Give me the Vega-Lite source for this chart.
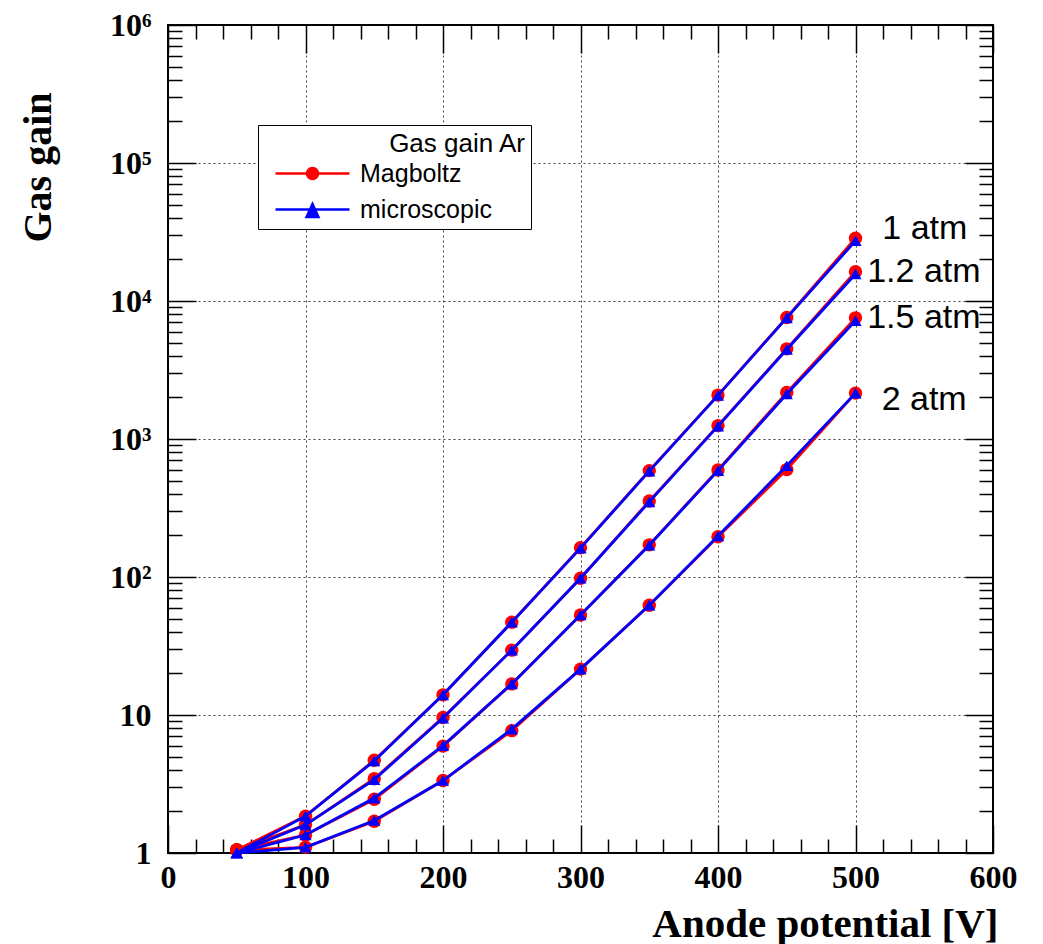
{
  "$schema": "https://vega.github.io/schema/vega-lite/v6.json",
  "width": 825,
  "height": 828,
  "autosize": {"type": "none"},
  "padding": {"left": 168, "top": 25, "right": 50, "bottom": 91},
  "background": "white",
  "config": {
    "view": {"stroke": "black", "strokeWidth": 2},
    "axis": {
      "domain": false,
      "tickColor": "black",
      "tickWidth": 1.5,
      "gridColor": "black",
      "gridDash": [2, 3],
      "gridWidth": 1,
      "gridOpacity": 0.75,
      "labelColor": "black",
      "titleColor": "black"
    }
  },
  "datasets": {
    "d": [
      {"V": 50, "g": 1.05, "p": "1", "m": "Magboltz"},
      {"V": 100, "g": 1.85, "p": "1", "m": "Magboltz"},
      {"V": 150, "g": 4.7, "p": "1", "m": "Magboltz"},
      {"V": 200, "g": 14, "p": "1", "m": "Magboltz"},
      {"V": 250, "g": 47, "p": "1", "m": "Magboltz"},
      {"V": 300, "g": 163, "p": "1", "m": "Magboltz"},
      {"V": 350, "g": 590, "p": "1", "m": "Magboltz"},
      {"V": 400, "g": 2080, "p": "1", "m": "Magboltz"},
      {"V": 450, "g": 7600, "p": "1", "m": "Magboltz"},
      {"V": 500, "g": 28500, "p": "1", "m": "Magboltz"},
      {"V": 50, "g": 1.0, "p": "1", "m": "microscopic"},
      {"V": 100, "g": 1.85, "p": "1", "m": "microscopic"},
      {"V": 150, "g": 4.65, "p": "1", "m": "microscopic"},
      {"V": 200, "g": 14, "p": "1", "m": "microscopic"},
      {"V": 250, "g": 47, "p": "1", "m": "microscopic"},
      {"V": 300, "g": 162, "p": "1", "m": "microscopic"},
      {"V": 350, "g": 585, "p": "1", "m": "microscopic"},
      {"V": 400, "g": 2070, "p": "1", "m": "microscopic"},
      {"V": 450, "g": 7550, "p": "1", "m": "microscopic"},
      {"V": 500, "g": 27300, "p": "1", "m": "microscopic"},
      {"V": 50, "g": 1.05, "p": "1.2", "m": "Magboltz"},
      {"V": 100, "g": 1.6, "p": "1.2", "m": "Magboltz"},
      {"V": 150, "g": 3.45, "p": "1.2", "m": "Magboltz"},
      {"V": 200, "g": 9.6, "p": "1.2", "m": "Magboltz"},
      {"V": 250, "g": 29.5, "p": "1.2", "m": "Magboltz"},
      {"V": 300, "g": 98, "p": "1.2", "m": "Magboltz"},
      {"V": 350, "g": 355, "p": "1.2", "m": "Magboltz"},
      {"V": 400, "g": 1250, "p": "1.2", "m": "Magboltz"},
      {"V": 450, "g": 4500, "p": "1.2", "m": "Magboltz"},
      {"V": 500, "g": 16300, "p": "1.2", "m": "Magboltz"},
      {"V": 50, "g": 1.0, "p": "1.2", "m": "microscopic"},
      {"V": 100, "g": 1.6, "p": "1.2", "m": "microscopic"},
      {"V": 150, "g": 3.4, "p": "1.2", "m": "microscopic"},
      {"V": 200, "g": 9.5, "p": "1.2", "m": "microscopic"},
      {"V": 250, "g": 29.5, "p": "1.2", "m": "microscopic"},
      {"V": 300, "g": 98, "p": "1.2", "m": "microscopic"},
      {"V": 350, "g": 350, "p": "1.2", "m": "microscopic"},
      {"V": 400, "g": 1240, "p": "1.2", "m": "microscopic"},
      {"V": 450, "g": 4450, "p": "1.2", "m": "microscopic"},
      {"V": 500, "g": 15700, "p": "1.2", "m": "microscopic"},
      {"V": 50, "g": 1.05, "p": "1.5", "m": "Magboltz"},
      {"V": 100, "g": 1.35, "p": "1.5", "m": "Magboltz"},
      {"V": 150, "g": 2.45, "p": "1.5", "m": "Magboltz"},
      {"V": 200, "g": 5.95, "p": "1.5", "m": "Magboltz"},
      {"V": 250, "g": 16.8, "p": "1.5", "m": "Magboltz"},
      {"V": 300, "g": 53, "p": "1.5", "m": "Magboltz"},
      {"V": 350, "g": 171, "p": "1.5", "m": "Magboltz"},
      {"V": 400, "g": 596, "p": "1.5", "m": "Magboltz"},
      {"V": 450, "g": 2170, "p": "1.5", "m": "Magboltz"},
      {"V": 500, "g": 7550, "p": "1.5", "m": "Magboltz"},
      {"V": 50, "g": 1.0, "p": "1.5", "m": "microscopic"},
      {"V": 100, "g": 1.35, "p": "1.5", "m": "microscopic"},
      {"V": 150, "g": 2.5, "p": "1.5", "m": "microscopic"},
      {"V": 200, "g": 6.0, "p": "1.5", "m": "microscopic"},
      {"V": 250, "g": 16.8, "p": "1.5", "m": "microscopic"},
      {"V": 300, "g": 53, "p": "1.5", "m": "microscopic"},
      {"V": 350, "g": 170, "p": "1.5", "m": "microscopic"},
      {"V": 400, "g": 590, "p": "1.5", "m": "microscopic"},
      {"V": 450, "g": 2120, "p": "1.5", "m": "microscopic"},
      {"V": 500, "g": 7200, "p": "1.5", "m": "microscopic"},
      {"V": 50, "g": 1.05, "p": "2", "m": "Magboltz"},
      {"V": 100, "g": 1.1, "p": "2", "m": "Magboltz"},
      {"V": 150, "g": 1.7, "p": "2", "m": "Magboltz"},
      {"V": 200, "g": 3.35, "p": "2", "m": "Magboltz"},
      {"V": 250, "g": 7.7, "p": "2", "m": "Magboltz"},
      {"V": 300, "g": 21.5, "p": "2", "m": "Magboltz"},
      {"V": 350, "g": 62.5, "p": "2", "m": "Magboltz"},
      {"V": 400, "g": 196, "p": "2", "m": "Magboltz"},
      {"V": 450, "g": 600, "p": "2", "m": "Magboltz"},
      {"V": 500, "g": 2150, "p": "2", "m": "Magboltz"},
      {"V": 50, "g": 1.0, "p": "2", "m": "microscopic"},
      {"V": 100, "g": 1.1, "p": "2", "m": "microscopic"},
      {"V": 150, "g": 1.72, "p": "2", "m": "microscopic"},
      {"V": 200, "g": 3.35, "p": "2", "m": "microscopic"},
      {"V": 250, "g": 7.9, "p": "2", "m": "microscopic"},
      {"V": 300, "g": 21.5, "p": "2", "m": "microscopic"},
      {"V": 350, "g": 62.5, "p": "2", "m": "microscopic"},
      {"V": 400, "g": 198, "p": "2", "m": "microscopic"},
      {"V": 450, "g": 640, "p": "2", "m": "microscopic"},
      {"V": 500, "g": 2150, "p": "2", "m": "microscopic"}
    ],
    "labels": [
      {"V": 519.5, "g": 33000, "t": "1 atm"},
      {"V": 508.5, "g": 16200, "t": "1.2 atm"},
      {"V": 508.5, "g": 7530, "t": "1.5 atm"},
      {"V": 519, "g": 1920, "t": "2 atm"}
    ]
  },
  "layer": [
    {
      "data": {"name": "d"},
      "transform": [{"filter": "datum.m == 'Magboltz'"}],
      "mark": {"type": "line", "color": "#ff0000", "strokeWidth": 2.8},
      "encoding": {
        "x": {
          "field": "V", "type": "quantitative",
          "scale": {"domain": [0, 600], "nice": false, "zero": false},
          "axis": {
            "orient": "bottom",
            "values": [0, 100, 200, 300, 400, 500, 600],
            "tickSize": -28,
            "labelPadding": 37,
            "labelFont": "Liberation Serif",
            "labelFontWeight": "bold",
            "labelFontSize": 32,
            "labelFlush": false,
            "labelOverlap": false,
            "grid": true,
            "title": "Anode potential [V]",
            "titleFont": "Liberation Serif",
            "titleFontWeight": "bold",
            "titleFontSize": 41,
            "titleAlign": "right",
            "titleBaseline": "alphabetic",
            "titleX": 830,
            "titleY": 83
          }
        },
        "y": {
          "field": "g", "type": "quantitative",
          "scale": {"type": "log", "domain": [1, 1000000], "nice": false},
          "axis": {
            "orient": "left",
            "values": [1, 10, 100, 1000, 10000, 100000, 1000000],
            "tickSize": -28,
            "labelPadding": 45,
            "labelExpr": "datum.value == 1 ? '1' : datum.value == 10 ? '10' : '10' + ['','','²','³','⁴','⁵','⁶'][round(log(datum.value)/LN10)]",
            "labelFont": "Liberation Serif",
            "labelFontWeight": "bold",
            "labelFontSize": 32,
            "labelOverlap": false,
            "labelFlush": false,
            "grid": true,
            "title": "Gas gain",
            "titleFont": "Liberation Serif",
            "titleFontWeight": "bold",
            "titleFontSize": 40,
            "titleAngle": -90,
            "titleAlign": "center",
            "titleBaseline": "middle",
            "titleX": -130,
            "titleY": 142
          }
        },
        "detail": {"field": "p"}
      }
    },
    {
      "data": {"name": "d"},
      "transform": [{"filter": "datum.m == 'Magboltz'"}],
      "mark": {"type": "point", "shape": "circle", "filled": true, "color": "#ff0000", "size": 180, "opacity": 1},
      "encoding": {
        "x": {
          "field": "V", "type": "quantitative",
          "scale": {"domain": [0, 600], "nice": false, "zero": false},
          "axis": {
            "orient": "bottom",
            "values": [20, 40, 60, 80, 120, 140, 160, 180, 220, 240, 260, 280, 320, 340, 360, 380, 420, 440, 460, 480, 520, 540, 560, 580],
            "tickSize": -14, "labels": false, "grid": false, "title": null
          }
        },
        "y": {
          "field": "g", "type": "quantitative",
          "scale": {"type": "log", "domain": [1, 1000000], "nice": false},
          "axis": {
            "orient": "left",
            "values": [2,3,4,5,6,7,8,9,20,30,40,50,60,70,80,90,200,300,400,500,600,700,800,900,2000,3000,4000,5000,6000,7000,8000,9000,20000,30000,40000,50000,60000,70000,80000,90000,200000,300000,400000,500000,600000,700000,800000,900000],
            "tickSize": -14, "labels": false, "grid": false, "title": null
          }
        }
      }
    },
    {
      "data": {"name": "d"},
      "transform": [{"filter": "datum.m == 'microscopic'"}],
      "mark": {"type": "line", "color": "#0000ff", "strokeWidth": 2.8},
      "encoding": {
        "x": {
          "field": "V", "type": "quantitative",
          "scale": {"domain": [0, 600], "nice": false, "zero": false},
          "axis": {
            "orient": "top",
            "values": [0, 100, 200, 300, 400, 500, 600],
            "tickSize": -28, "labels": false, "grid": false, "title": null
          }
        },
        "y": {
          "field": "g", "type": "quantitative",
          "scale": {"type": "log", "domain": [1, 1000000], "nice": false},
          "axis": {
            "orient": "right",
            "values": [1, 10, 100, 1000, 10000, 100000, 1000000],
            "tickSize": -28, "labels": false, "grid": false, "title": null
          }
        },
        "detail": {"field": "p"}
      }
    },
    {
      "data": {"name": "d"},
      "transform": [{"filter": "datum.m == 'microscopic'"}],
      "mark": {"type": "point", "shape": "triangle-up", "filled": true, "color": "#0000ff", "size": 150, "opacity": 1},
      "encoding": {
        "x": {
          "field": "V", "type": "quantitative",
          "scale": {"domain": [0, 600], "nice": false, "zero": false},
          "axis": {
            "orient": "top",
            "values": [20, 40, 60, 80, 120, 140, 160, 180, 220, 240, 260, 280, 320, 340, 360, 380, 420, 440, 460, 480, 520, 540, 560, 580],
            "tickSize": -14, "labels": false, "grid": false, "title": null
          }
        },
        "y": {
          "field": "g", "type": "quantitative",
          "scale": {"type": "log", "domain": [1, 1000000], "nice": false},
          "axis": {
            "orient": "right",
            "values": [2,3,4,5,6,7,8,9,20,30,40,50,60,70,80,90,200,300,400,500,600,700,800,900,2000,3000,4000,5000,6000,7000,8000,9000,20000,30000,40000,50000,60000,70000,80000,90000,200000,300000,400000,500000,600000,700000,800000,900000],
            "tickSize": -14, "labels": false, "grid": false, "title": null
          }
        }
      }
    },
    {
      "data": {"name": "labels"},
      "mark": {"type": "text", "align": "left", "baseline": "middle", "font": "Liberation Sans", "fontSize": 34, "color": "black"},
      "encoding": {
        "x": {"field": "V", "type": "quantitative", "scale": {"domain": [0, 600], "nice": false, "zero": false}, "axis": null},
        "y": {"field": "g", "type": "quantitative", "scale": {"type": "log", "domain": [1, 1000000], "nice": false}, "axis": null},
        "text": {"field": "t"}
      }
    },
    {
      "data": {"name": "d"},
      "mark": {"type": "point", "filled": true, "opacity": 0},
      "encoding": {
        "x": {"field": "V", "type": "quantitative", "scale": {"domain": [0, 600], "nice": false, "zero": false}, "axis": null},
        "y": {"field": "g", "type": "quantitative", "scale": {"type": "log", "domain": [1, 1000000], "nice": false}, "axis": null},
        "fill": {
          "field": "m", "type": "nominal",
          "scale": {"domain": ["Magboltz", "microscopic"], "range": ["#ff0000", "#0000ff"]},
          "legend": {"title": "Gas gain Ar"}
        },
        "stroke": {
          "field": "m", "type": "nominal",
          "scale": {"domain": ["Magboltz", "microscopic"], "range": ["#ff0000", "#0000ff"]},
          "legend": {"title": "Gas gain Ar"}
        },
        "shape": {
          "field": "m", "type": "nominal",
          "scale": {
            "domain": ["Magboltz", "microscopic"],
            "range": [
              "M-5,0L5,0M0.75,0A0.75,0.75,0,1,1,-0.75,0A0.75,0.75,0,1,1,0.75,0ZM28,0",
              "M-5,0L5,0M0,-0.75L0.8,1L-0.8,1ZM28,0"
            ]
          },
          "legend": {
            "title": "Gas gain Ar",
            "orient": "none",
            "legendX": 90,
            "legendY": 100,
            "titleFont": "Liberation Sans",
            "titleFontSize": 26,
            "titleFontWeight": "normal",
            "titleColor": "black",
            "titleAnchor": "end",
            "titlePadding": 4,
            "labelFont": "Liberation Sans",
            "labelFontSize": 25,
            "labelColor": "black",
            "symbolSize": 219,
            "symbolStrokeWidth": 2.5,
            "symbolOpacity": 1,
            "symbolOffset": 36,
            "labelOffset": 35,
            "rowPadding": 10,
            "padding": 6,
            "strokeColor": "black",
            "fillColor": "white"
          }
        }
      }
    }
  ],
  "resolve": {"axis": {"x": "independent", "y": "independent"}}
}
